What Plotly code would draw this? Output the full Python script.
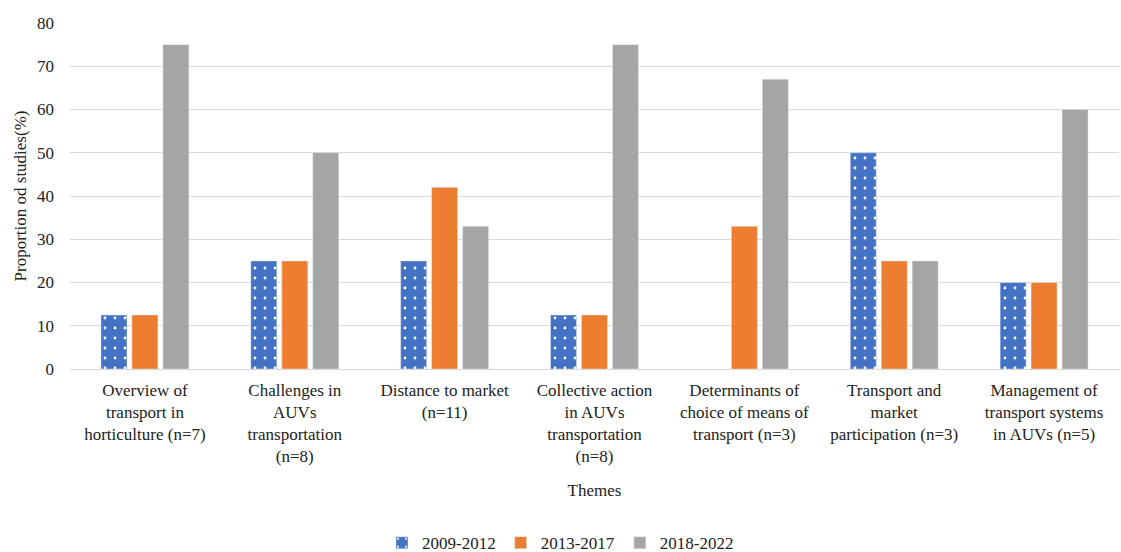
import plotly.graph_objects as go

themes = [
    "Overview of<br>transport in<br>horticulture (n=7)",
    "Challenges in<br>AUVs<br>transportation<br>(n=8)",
    "Distance to market<br>(n=11)",
    "Collective action<br>in AUVs<br>transportation<br>(n=8)",
    "Determinants of<br>choice of means of<br>transport (n=3)",
    "Transport and<br>market<br>participation (n=3)",
    "Management of<br>transport systems<br>in AUVs (n=5)",
]
p2009_2012 = [12.5, 25, 25, 12.5, None, 50, 20]
p2013_2017 = [12.5, 25, 42, 12.5, 33, 25, 20]
p2018_2022 = [75, 50, 33, 75, 67, 25, 60]

FONT = "Liberation Serif, Times New Roman, serif"

fig = go.Figure()
fig.add_trace(go.Bar(
    name="2009-2012", x=themes, y=p2009_2012,
    marker=dict(color="#4472C4",
                pattern=dict(shape=".", fgcolor="white", bgcolor="#4472C4",
                             size=10, solidity=0.06, fillmode="replace")),
))
fig.add_trace(go.Bar(name="2013-2017", x=themes, y=p2013_2017,
                     marker=dict(color="#ED7D31")))
fig.add_trace(go.Bar(name="2018-2022", x=themes, y=p2018_2022,
                     marker=dict(color="#A5A5A5")))

fig.update_layout(
    width=1121, height=552,
    margin=dict(l=70, r=2, t=23, b=183, autoexpand=False),
    paper_bgcolor="white", plot_bgcolor="white",
    barmode="group", bargap=0.38, bargroupgap=0.16,
    font=dict(family=FONT, size=17, color="#222222"),
    legend=dict(orientation="h", xref="container", x=0.5, xanchor="center",
                yref="container", y=0.016, yanchor="middle",
                font=dict(size=17), traceorder="normal"),
)
fig.update_yaxes(
    range=[0, 80], dtick=10, showgrid=True, gridcolor="#D9D9D9", gridwidth=1,
    zeroline=True, zerolinecolor="#D9D9D9", zerolinewidth=1,
    ticks="", ticklabelstandoff=15, automargin=False,
    title=dict(text="Proportion od studies(%)", font=dict(size=17), standoff=6),
)
fig.update_xaxes(
    showline=False, ticks="", automargin=False, ticklabelstandoff=9,
    title=dict(text="Themes", font=dict(size=17), standoff=18),
)

fig.write_html("out.html")
